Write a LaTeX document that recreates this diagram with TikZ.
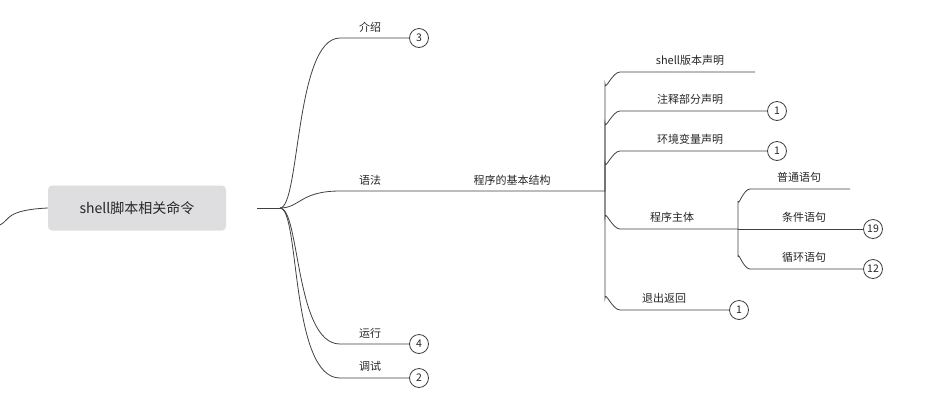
\documentclass[tikz,border=0pt]{standalone}
\usepackage{fontspec}
\setmainfont{Noto Sans CJK SC}
\usetikzlibrary{positioning,calc}
\tikzstyle{edge} = [draw=black!75, line width=0.8pt]
\begin{document}
\begin{tikzpicture}[x=1pt, y=-1pt]
\tikzstyle{every node}=[inner sep=1pt, font=\fontsize{11}{13}\selectfont, text=black!85]
\tikzstyle{badge}=[circle, draw=black!75, line width=0.8pt, minimum size=19pt, inner sep=0pt, fill=white, font=\fontsize{10.5}{12}\selectfont]
\useasboundingbox (0,0) rectangle (938,416);
	% root
	\node[fill=black!10!blue!3!gray!25, rounded corners=4pt, minimum width=178pt, minimum height=45pt, font=\fontsize{14}{16}\selectfont] (root) at (137,208) {shell脚本相关命令};
	\coordinate (r0) at (257,208);
	\coordinate (r1) at (280,208);
	\draw[edge] (0,225) .. controls (10,220) and (5,210) .. (root.west);
	\draw[edge] (r0) -- (r1);

	% first level
	\node (intro) at (370,27) {介绍};
	\node[badge] (bintro) at (419,38) {3};
	\node (syn) at (370,180) {语法};
	\node (struct) at (512,180) {程序的基本结构};
	\node (run) at (370,333) {运行};
	\node[badge] (brun) at (419,344) {4};
	\node (dbg) at (370,366) {调试};
	\node[badge] (bdbg) at (419,378) {2};
	\coordinate (s0) at (605,191);

	\draw[edge] (r1) .. controls (300,208) and (295,38) .. (340,38) -- (bintro);
	\draw[edge] (r1) .. controls (300,208) and (300,191) .. (340,191) -- (s0);
	\draw[edge] (r1) .. controls (300,208) and (295,344) .. (340,344) -- (brun);
	\draw[edge] (r1) .. controls (300,208) and (290,378) .. (340,378) -- (bdbg);

	% second level
	\node (ver) at (690,60) {shell版本声明};
	\node (cmt) at (690,99) {注释部分声明};
	\node[badge] (bcmt) at (777,111) {1};
	\node (env) at (690,139) {环境变量声明};
	\node[badge] (benv) at (777,151) {1};
	\node (body) at (672,217) {程序主体};
	\node (ret) at (664,298) {退出返回};
	\node[badge] (bret) at (739,310) {1};
	\coordinate (b0) at (738,229);

	\draw[edge] (s0) -- (605,84) to[out=-90, in=180] (620,72) -- (755,72);
	\draw[edge] (s0) -- (605,123) to[out=-90, in=180] (620,111) -- (bcmt);
	\draw[edge] (s0) -- (605,163) to[out=-90, in=180] (620,151) -- (benv);
	\draw[edge] (s0) -- (605,217) to[out=90, in=180] (620,229) -- (b0);
	\draw[edge] (s0) -- (605,298) to[out=90, in=180] (620,310) -- (bret);

	% third level
	\node (plain) at (799,177) {普通语句};
	\node (cond) at (804,217) {条件语句};
	\node[badge] (bcond) at (873,229) {19};
	\node (loop) at (804,257) {循环语句};
	\node[badge] (bloop) at (873,269) {12};

	\draw[edge] (b0) -- (738,201) to[out=-90, in=180] (750,189) -- (850,189);
	\draw[edge] (b0) -- (bcond);
	\draw[edge] (b0) -- (738,257) to[out=90, in=180] (750,269) -- (bloop);
\end{tikzpicture}
\end{document}
